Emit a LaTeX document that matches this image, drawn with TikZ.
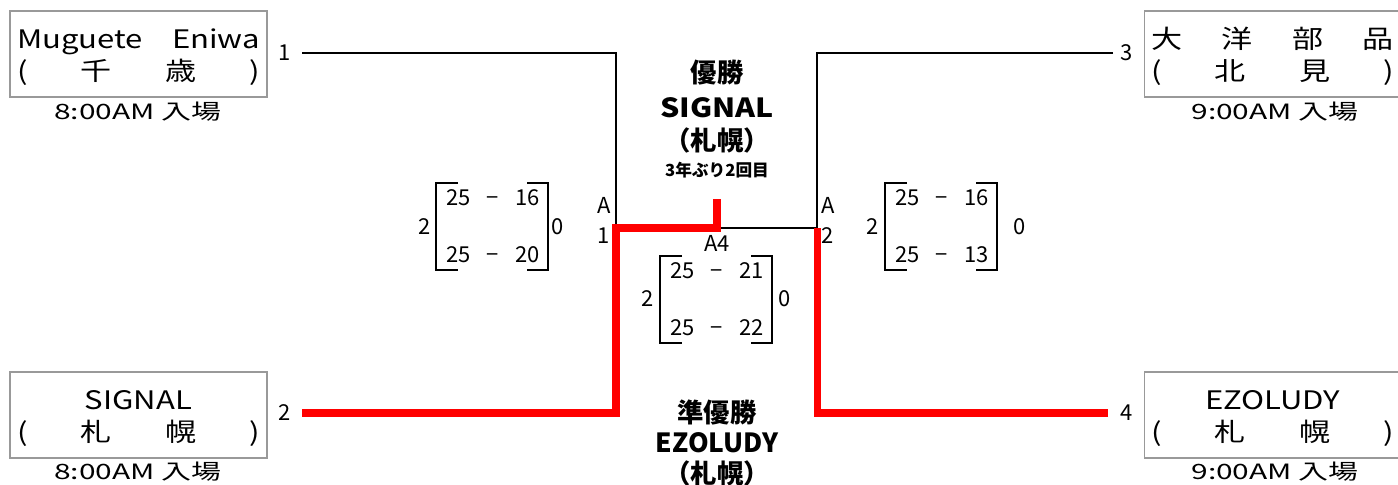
\documentclass[tikz,border=0pt]{standalone}
\usepackage{fontspec}
\setmainfont{Noto Sans CJK JP}
\newfontfamily\boxfont{Noto Sans CJK JP}[FakeStretch=1.22]
\newfontfamily\entryfont{Noto Sans CJK JP}[FakeStretch=1.42]
\newfontfamily\titlelatin{Noto Sans CJK JP}[FakeStretch=1.15]
\begin{document}
\begin{tikzpicture}[x=0.02cm, y=-0.02cm,
                    team/.style={draw=black!40, line width=0.6pt, minimum width=5.14cm, minimum height=1.72cm,
                                 text width=4.86cm, text height=15.4pt, text depth=22.2pt, align=center, inner sep=0pt,
                                 font=\boxfont\fontsize{14.5}{18.7}\selectfont},
                    entry/.style={font=\entryfont\fontsize{12}{14}\selectfont},
                    seed/.style={font=\fontsize{12.5}{14}\selectfont, inner sep=1pt},
                    score/.style={font=\fontsize{12.5}{14}\selectfont, text width=1.88cm, align=center, inner sep=0pt},
                    bline/.style={line width=1.3pt},
                    rline/.style={line width=4pt, red, line join=miter},
                    brk/.style={line width=1.2pt},
                    title/.style={font=\bfseries\fontsize{15}{18}\selectfont, inner sep=0pt}
                ]
                \useasboundingbox (0,0) rectangle (1398,484);
                % teams
                \node[team] (t1) at (138.5,54) {Muguete\hfill Eniwa\\(\hfill 千\hfill 歳\hfill )};
                \node[team] (t2) at (138.5,415) {SIGNAL\\(\hfill 札\hfill 幌\hfill )};
                \node[team] (t3) at (1272.5,54) {大\hfill 洋\hfill 部\hfill 品\\(\hfill 北\hfill 見\hfill )};
                \node[team] (t4) at (1272.5,415) {EZOLUDY\\(\hfill 札\hfill 幌\hfill )};
                \node[entry] (e1) at (138,112) {8:00AM 入場};
                \node[entry] (e2) at (138,472) {8:00AM 入場};
                \node[entry] (e3) at (1275,112) {9:00AM 入場};
                \node[entry] (e4) at (1275,472) {9:00AM 入場};
                % seeds
                \node[seed] (n1) at (285,53) {1};
                \node[seed] (n2) at (285,413) {2};
                \node[seed] (n3) at (1127,53) {3};
                \node[seed] (n4) at (1127,413) {4};
                \coordinate (s1) at (302,53);
                \coordinate (s2) at (302,413);
                \coordinate (s3) at (1113,53);
                \coordinate (s4) at (1108,413);
                \coordinate (a1) at (616,228);
                \coordinate (a2) at (817,228);
                \coordinate (w) at (717,228);
                \coordinate (wtop) at (717,199);
                % bracket lines
                \draw[bline] (s1) -| (a1);
                \draw[bline] (s3) -| (a2);
                \draw[bline] (w) -- (a2);
                \draw[rline] (s2) -| (a1) -- (w) -- (wtop);
                \draw[rline] (s4) -| (a2);
                % match labels
                \node[seed] (m1a) at (604,205) {A};
                \node[seed] (m1b) at (604,236) {1};
                \node[seed] (m2a) at (828,205) {A};
                \node[seed] (m2b) at (828,236) {2};
                \node[seed] (m4) at (717,243) {A4};
                % scores
                \foreach \bx/\by/\sa/\sb/\nm in {436/183/16/20/l, 660/256/21/22/c, 885/183/16/13/r} {
                    \draw[brk] (\bx+22,\by) -- (\bx,\by) -- (\bx,\by+87) -- (\bx+22,\by+87);
                    \draw[brk] (\bx+91,\by) -- (\bx+112,\by) -- (\bx+112,\by+87) -- (\bx+91,\by+87);
                    \node[score] (\nm top) at (\bx+57,\by+15) {25\hfill −\hfill \sa};
                    \node[score] (\nm bot) at (\bx+57,\by+72) {25\hfill −\hfill \sb};
                }
                \node[seed] (lw) at (425,227) {2};
                \node[seed] (ll) at (558,227) {0};
                \node[seed] (cw) at (648,299) {2};
                \node[seed] (cl) at (785,299) {0};
                \node[seed] (rw) at (873,227) {2};
                \node[seed] (rl) at (1020,227) {0};
                % result
                \node[title] (champ) at (717,73) {優勝};
                \node[title, font=\titlelatin\bfseries\fontsize{15}{18}\selectfont] (champteam) at (717,108) {SIGNAL};
                \node[title] (champcity) at (717,140) {（札幌）};
                \node[title, font=\bfseries\fontsize{9.5}{11}\selectfont] (champnote) at (717,170) {3年ぶり2回目};
                \node[title] (second) at (717,412) {準優勝};
                \node[title] (secondteam) at (717,443) {EZOLUDY};
                \node[title] (secondcity) at (717,473) {（札幌）};
                \end{tikzpicture}
\end{document}
